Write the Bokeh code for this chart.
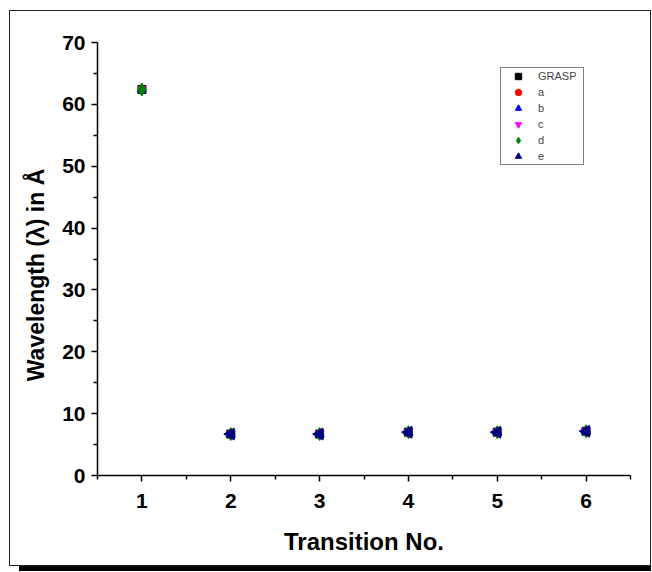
import math
from bokeh.plotting import figure
from bokeh.models import Range1d, FixedTicker, Legend, LegendItem, ColumnDataSource
from bokeh.embed import file_html
from bokeh.resources import INLINE

transition = [1, 2, 3, 4, 5, 6]
grasp = [62.4, 6.7, 6.7, 7.0, 7.0, 7.15]
series_a = [62.4, 6.7, 6.7, 7.0, 7.0, 7.15]
series_b = [62.4, 6.7, 6.7, 7.0, 7.0, 7.15]
series_c = [62.4, 6.7, 6.7, 7.0, 7.0, 7.15]
series_d = [62.4, 6.7, 6.7, 7.0, 7.0, 7.15]
series_e = [float("nan"), 6.7, 6.7, 7.0, 7.0, 7.15]
y_ticks = [0, 10, 20, 30, 40, 50, 60, 70]

p = figure(width=642, height=556, output_backend="svg", toolbar_location=None,
           x_range=Range1d(0.5, 6.5), y_range=Range1d(0, 70),
           min_border_left=87, min_border_top=31, min_border_right=22, min_border_bottom=92)
p.styles = {"margin-left": "9px", "margin-top": "10px",
            "border": "1.5px solid #222", "box-shadow": "5px 10px 0 -5px #000"}
p.outline_line_color = None
p.grid.visible = False

for ax in (p.xaxis[0], p.yaxis[0]):
    ax.axis_line_width = 1.5
    ax.axis_line_color = "black"
    ax.major_tick_line_width = 1.5
    ax.minor_tick_line_width = 1.5
    ax.major_tick_out = 6
    ax.major_tick_in = 0
    ax.minor_tick_out = 4
    ax.minor_tick_in = 0
    ax.major_label_text_font = "Liberation Sans"
    ax.major_label_text_font_style = "bold"
    ax.major_label_text_font_size = "21px"
    ax.major_label_text_color = "black"
    ax.axis_label_text_font = "Liberation Sans"
    ax.axis_label_text_font_style = "bold"
    ax.axis_label_text_color = "black"

p.xaxis.ticker = FixedTicker(ticks=transition, minor_ticks=[0.5, 1.5, 2.5, 3.5, 4.5, 5.5, 6.5])
p.yaxis.ticker = FixedTicker(ticks=y_ticks, minor_ticks=[5, 15, 25, 35, 45, 55, 65])
p.xaxis.axis_label = "Transition No."
p.yaxis.axis_label = "Wavelength (λ) in Å" + "\u00a0" * 5
p.xaxis.axis_label_text_font_size = "24px"
p.yaxis.axis_label_text_font_size = "23px"
p.xaxis.major_label_standoff = 12
p.xaxis.axis_label_standoff = 17
p.yaxis.major_label_standoff = 6
p.yaxis.axis_label_standoff = 10

src = ColumnDataSource(dict(x=transition, g=grasp, a=series_a, b=series_b,
                            c=series_c, d=series_d, e=series_e))
r0 = p.scatter("x", "g", source=src, marker="square", size=8, color="black")
r1 = p.scatter("x", "a", source=src, marker="circle", size=8, color="red")
r2 = p.scatter("x", "b", source=src, marker="triangle", size=9, color="blue")
r3 = p.scatter("x", "c", source=src, marker="inverted_triangle", size=9, color="magenta")
r4 = p.scatter("x", "d", source=src, marker="diamond", size=13, color="green")
r5 = p.scatter("x", "e", source=src, marker="triangle", angle=math.pi / 2, size=12, color="navy")

legend = Legend(items=[
    LegendItem(label="GRASP", renderers=[r0]),
    LegendItem(label="a", renderers=[r1]),
    LegendItem(label="b", renderers=[r2]),
    LegendItem(label="c", renderers=[r3]),
    LegendItem(label="d", renderers=[r4]),
    LegendItem(label="e", renderers=[r5]),
], location=(403, 310))
legend.label_text_font = "Liberation Sans"
legend.label_text_font_size = "11px"
legend.label_height = 16
legend.label_width = 45
legend.glyph_height = 16
legend.glyph_width = 34
legend.spacing = 0
legend.padding = 0
legend.margin = 0
legend.label_standoff = 3
legend.border_line_color = "black"
legend.border_line_width = 1
legend.background_fill_alpha = 1
p.add_layout(legend)

open("out.html", "w").write(file_html(p, INLINE))
